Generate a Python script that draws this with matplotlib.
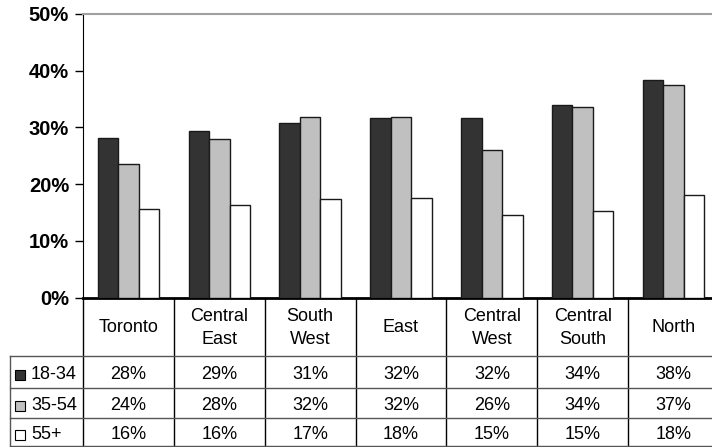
import matplotlib
matplotlib.use("Agg")
from matplotlib import pyplot as plt
from matplotlib.transforms import blended_transform_factory
import numpy as np

regions = ["Toronto", "Central\nEast", "South\nWest", "East", "Central\nWest", "Central\nSouth", "North"]
age_groups = ["18-34", "35-54", "55+"]
share_18_34 = [28.2, 29.4, 30.7, 31.7, 31.7, 34.0, 38.4]
share_35_54 = [23.6, 28.0, 31.9, 31.9, 26.0, 33.6, 37.4]
share_55_plus = [15.6, 16.3, 17.4, 17.6, 14.6, 15.2, 18.1]
y_ticks = [0, 10, 20, 30, 40, 50]

series = [share_18_34, share_35_54, share_55_plus]
colors = ["#333333", "#c0c0c0", "#ffffff"]

plt.rcParams["font.family"] = ["Liberation Sans", "DejaVu Sans"]

W, H = 712, 447
fig = plt.figure(figsize=(W / 100, H / 100), dpi=100)

# plot area in pixels (it runs past the right edge like the original)
left_px, right_px = 83, 719
top_px, base_px = 13.7, 297.7
ax = fig.add_axes([left_px / W, 1 - base_px / H,
                   (right_px - left_px) / W, (base_px - top_px) / H])

x = np.arange(len(regions))
bw = 0.225
for i, (vals, c) in enumerate(zip(series, colors)):
    ax.bar(x + (i - 1) * bw, vals, width=bw, color=c, edgecolor="#1a1a1a",
           linewidth=1, zorder=3)

ax.set_xlim(-0.5, len(regions) - 0.5)
ax.set_ylim(0, 50)
ax.set_yticks(y_ticks)
ax.set_yticklabels([f"{t}%" for t in y_ticks], fontsize=14.5, fontweight="bold")
ax.set_xticks([])
ax.tick_params(axis="y", length=6, width=1, pad=4, color="black")
ax.spines["left"].set_color("black")
ax.spines["bottom"].set_color("black")
ax.spines["bottom"].set_linewidth(2)
ax.spines["top"].set_color("#a0a0a0")
ax.spines["top"].set_linewidth(1.5)
ax.spines["right"].set_visible(False)

# data table under the chart
def fy(py):
    return 1 - py / H

tr = blended_transform_factory(ax.transData, fig.transFigure)
row_lines = [356, 387.5, 417.7, 446]
label_left = 10
text_drop = 3  # text sits a little below the middle of each row

# vertical lines at category boundaries
for b in np.arange(-0.5, len(regions), 1.0):
    ax.plot([b, b], [fy(base_px), fy(row_lines[-1])], color="black", lw=1,
            transform=tr, clip_on=False)
fig.add_artist(plt.Line2D([label_left / W, label_left / W],
                          [fy(row_lines[0]), fy(row_lines[-1])],
                          color="#555555", lw=1))
for ry in row_lines:
    fig.add_artist(plt.Line2D([label_left / W, 1], [fy(ry), fy(ry)],
                              color="#555555", lw=1))

# header row
for i, name in enumerate(regions):
    ax.text(i, fy((base_px + row_lines[0]) / 2 + 1), name, transform=tr,
            ha="center", va="center", fontsize=13, linespacing=1.45)

# value rows
for r, (grp, vals, c) in enumerate(zip(age_groups, series, colors)):
    ym = (row_lines[r] + row_lines[r + 1]) / 2
    fig.add_artist(plt.Line2D([20 / W], [fy(ym + text_drop)], marker="s",
                              markersize=7, markerfacecolor=c,
                              markeredgecolor="black", markeredgewidth=0.8))
    yc = fy(ym + text_drop)
    fig.text(31 / W, yc, grp, ha="left", va="center", fontsize=13)
    for i, v in enumerate(vals):
        ax.text(i, yc, f"{round(v)}%", transform=tr, ha="center",
                va="center", fontsize=13)

plt.savefig("out.png", dpi=100)
